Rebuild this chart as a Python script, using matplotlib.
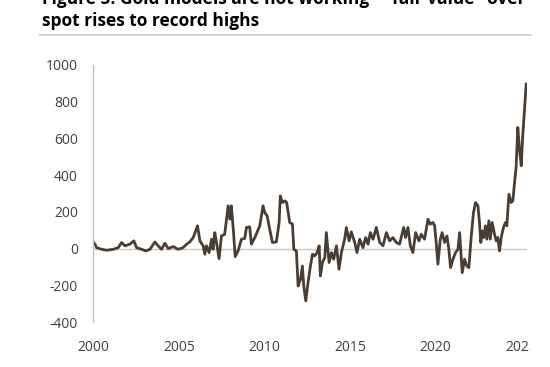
import matplotlib.pyplot as plt
from matplotlib.patches import Rectangle

plt.rcParams["font.family"] = ["Open Sans", "DejaVu Sans"]
plt.rcParams["axes.unicode_minus"] = False

title_line1 = 'Figure 5: Gold models are not working - "fair value" over'
title_line2 = "spot rises to record highs"

# fair value over spot (decimal years)
years = [
    2000.00, 2000.10, 2000.19, 2000.49, 2000.78, 2001.17, 2001.46, 2001.65, 2001.85,
    2002.14, 2002.37, 2002.53, 2002.82, 2003.07, 2003.31, 2003.60, 2003.79, 2003.99,
    2004.18, 2004.38, 2004.67, 2004.96, 2005.25, 2005.45, 2005.64, 2005.84, 2006.09,
    2006.23, 2006.42, 2006.52, 2006.61, 2006.77, 2006.91, 2007.00, 2007.10, 2007.20,
    2007.35, 2007.49, 2007.68, 2007.88, 2007.98, 2008.07, 2008.21, 2008.29, 2008.46,
    2008.66, 2008.85, 2008.95, 2009.14, 2009.24, 2009.44, 2009.73, 2009.92, 2010.02,
    2010.16, 2010.31, 2010.47, 2010.70, 2010.86, 2010.93, 2011.05, 2011.20, 2011.30,
    2011.48, 2011.64, 2011.72, 2011.87, 2011.97, 2012.11, 2012.22, 2012.30, 2012.42,
    2012.55, 2012.69, 2012.81, 2012.94, 2013.08, 2013.20, 2013.27, 2013.39, 2013.53,
    2013.62, 2013.78, 2013.92, 2014.05, 2014.21, 2014.36, 2014.50, 2014.69, 2014.79,
    2014.95, 2015.08, 2015.28, 2015.41, 2015.57, 2015.76, 2015.92, 2016.06, 2016.19,
    2016.35, 2016.54, 2016.74, 2016.93, 2017.13, 2017.32, 2017.51, 2017.71, 2017.90,
    2018.14, 2018.25, 2018.39, 2018.53, 2018.68, 2018.84, 2019.03, 2019.17, 2019.36,
    2019.56, 2019.69, 2019.85, 2019.95, 2020.04, 2020.14, 2020.28, 2020.39, 2020.53,
    2020.67, 2020.78, 2020.88, 2021.02, 2021.17, 2021.31, 2021.41, 2021.50, 2021.56,
    2021.70, 2021.83, 2021.95, 2022.09, 2022.22, 2022.34, 2022.48, 2022.57, 2022.65,
    2022.73, 2022.81, 2022.92, 2023.00, 2023.12, 2023.20, 2023.31, 2023.45, 2023.55,
    2023.64, 2023.74, 2023.84, 2023.97, 2024.09, 2024.17, 2024.29, 2024.42, 2024.52,
    2024.62, 2024.71, 2024.81, 2024.91, 2025.01, 2025.10, 2025.30,
]
values = [
    36, 24, 5, -4, -9, -4, 5, 33, 15,
    24, 42, 5, -4, -13, -4, 36, 15, -4,
    29, 0, 11, -4, 5, 24, 36, 60, 124,
    42, 15, -31, 15, -22, 51, -4, 87, 33,
    -55, 69, 78, 233, 160, 233, 69, -44, -13,
    51, 55, 115, 118, 24, 60, 124, 233, 196,
    178, 105, 33, 36, 142, 287, 251, 260, 251,
    142, 133, -4, -13, -204, -167, -95, -204, -285,
    -185, -95, -31, -40, -22, 15, -149, -76, -49,
    87, -76, -22, -58, 15, -113, -22, 51, 115,
    42, 91, 33, -22, 51, 5, 60, 24, 87,
    51, 115, 33, 15, 87, 42, 60, 33, 24,
    115, 60, 115, 15, -22, 87, 42, 78, 51,
    160, 133, 142, 124, 33, -85, 51, 87, 33,
    69, -4, -104, -58, -22, -4, 87, -40, -131,
    -58, -95, -104, 69, 196, 251, 233, 142, 33,
    96, 60, 124, 51, 151, 51, 142, 78, 42,
    60, -13, 60, 115, 142, 124, 296, 251, 260,
    360, 442, 660, 542, 451, 615, 896,
]

x_ticks = [2000, 2005, 2010, 2015, 2020, 2025]
y_ticks = [-400, -200, 0, 200, 400, 600, 800, 1000]

W, H = 550, 367
fig = plt.figure(figsize=(5.5, 3.67), dpi=100)
ax = fig.add_axes([93.3 / W, 1 - 322 / H, (526.7 - 93.3) / W, (322 - 65) / H])

ax.axhline(0, color="#c8c8c8", lw=1.0, zorder=1)
ax.plot(years, values, color="#4b3d33", lw=2.0, zorder=2)

ax.set_xlim(2000, 2025.33)
ax.set_ylim(-400, 1000)
ax.set_xticks(x_ticks)
ax.set_yticks(y_ticks)
ax.tick_params(length=0, labelsize=10, labelcolor="#404040")
ax.tick_params(axis="y", pad=11)
ax.tick_params(axis="x", pad=13)

for side in ["top", "right", "bottom"]:
    ax.spines[side].set_visible(False)
ax.spines["left"].set_color("#bfbfbf")
ax.spines["left"].set_linewidth(1.0)

fig.text(42 / W, 1 - 4 / H, title_line1, fontsize=12.5, fontweight="bold",
         color="black", va="baseline", ha="left")
fig.text(42 / W, 1 - 26 / H, title_line2, fontsize=12.5, fontweight="bold",
         color="black", va="baseline", ha="left")
fig.add_artist(plt.Line2D([40 / W, 531 / W], [1 - 35 / H, 1 - 35 / H],
                          color="#d3d3d3", lw=1.5, transform=fig.transFigure))

# the source image is cropped just after "202"
fig.add_artist(Rectangle((530 / W, 0), 20 / W, 1 - 40 / H, transform=fig.transFigure,
                         facecolor="white", edgecolor="none", zorder=10))

fig.savefig("out.png", dpi=100)
